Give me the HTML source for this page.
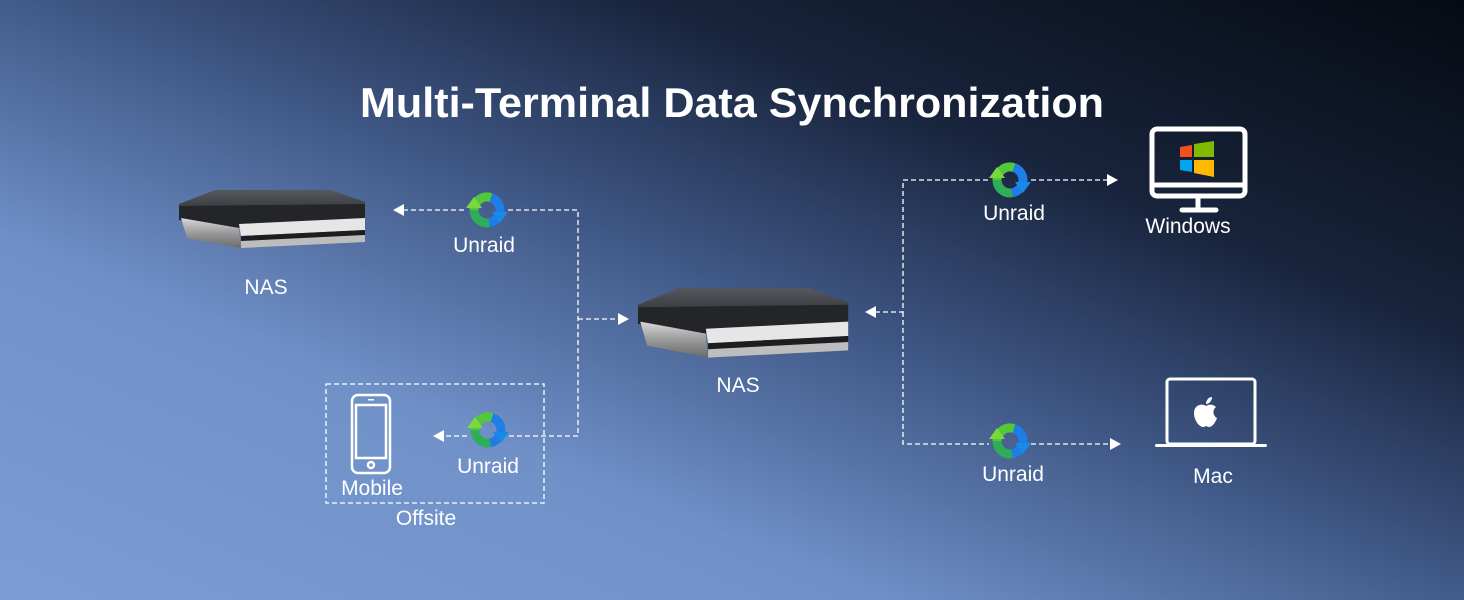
<!DOCTYPE html>
<html><head><meta charset="utf-8"><style>
html,body{margin:0;padding:0;width:1464px;height:600px;overflow:hidden}
svg{display:block}
text{font-family:"Liberation Sans",sans-serif;fill:#fff}
</style></head><body>
<svg width="1464" height="600" viewBox="0 0 1464 600" xmlns="http://www.w3.org/2000/svg">
<defs>
<linearGradient id="bg" x1="0" y1="1" x2="1" y2="0">
<stop offset="0" stop-color="#7c9dd4"/>
<stop offset="0.3" stop-color="#7090c8"/>
<stop offset="0.52" stop-color="#3e5684"/>
<stop offset="0.72" stop-color="#18243c"/>
<stop offset="1" stop-color="#060a12"/>
</linearGradient>
<linearGradient id="silver" x1="0" y1="0" x2="0" y2="1">
<stop offset="0" stop-color="#d8d8d8"/><stop offset="0.5" stop-color="#9a9a9a"/><stop offset="1" stop-color="#6a6a6a"/>
</linearGradient>
<linearGradient id="top" x1="0" y1="0" x2="0" y2="1">
<stop offset="0" stop-color="#55585d"/><stop offset="1" stop-color="#3a3c40"/>
</linearGradient>
<g id="nas">
<polygon points="0,14 36,0 152,0 186,12 186,16 0,18" fill="url(#top)"/>
<polygon points="0,16 186,14 186,30 62,34 60,38 0,30" fill="#232528"/>
<polygon points="2,28 60,38 62,58 8,48" fill="url(#silver)"/>
<polygon points="60,34 186,28 186,40 62,46" fill="#e6e6e6"/>
<polygon points="62,46 186,40 186,46 62,52" fill="#1c1d20"/>
<polygon points="62,51 186,45 186,52 62,58" fill="#bdbdbd"/>
</g>
<g id="sync">
<path d="M-13,0 A13,13 0 0 1 4,-12.4" fill="none" stroke="#52c93a" stroke-width="9"/>
<polygon points="-21,-2 -5,-2 -13,-13" fill="#7ad83c"/>
<path d="M4,-12.4 A13,13 0 0 1 2,12.8" fill="none" stroke="#1f7de6" stroke-width="9"/>
<path d="M-13,0 A13,13 0 0 0 2,12.8" fill="none" stroke="#2fae5a" stroke-width="9"/>
<polygon points="21,2 5,2 13,13" fill="#1a8ae8"/>
</g>
</defs>
<rect width="1464" height="600" fill="url(#bg)"/>
<text x="732" y="117" text-anchor="middle" font-size="42" font-weight="bold" textLength="744" lengthAdjust="spacingAndGlyphs">Multi-Terminal Data Synchronization</text>

<g stroke="#fff" stroke-width="1.3" stroke-dasharray="5,3" fill="none">
<path d="M403,210 H466"/>
<path d="M508,210 H578 V436 H509"/>
<path d="M467,436 H443"/>
<path d="M578,319 H620"/>
<path d="M875,312 H903 V180 H989"/>
<path d="M1031,180 H1108"/>
<path d="M903,312 V444 H989"/>
<path d="M1031,444 H1110"/>
<rect x="326" y="384" width="218" height="119"/>
</g>
<g fill="#fff">
<polygon points="393,210 404,204 404,216"/>
<polygon points="433,436 444,430 444,442"/>
<polygon points="629,319 618,313 618,325"/>
<polygon points="865,312 876,306 876,318"/>
<polygon points="1118,180 1107,174 1107,186"/>
<polygon points="1121,444 1110,438 1110,450"/>
</g>

<use href="#nas" x="179" y="190"/>
<use href="#nas" transform="translate(638,288) scale(1.13,1.2)"/>

<use href="#sync" x="487" y="210"/>
<use href="#sync" x="488" y="430"/>
<use href="#sync" x="1010" y="180"/>
<use href="#sync" x="1010" y="441"/>

<g font-size="21">
<text x="484" y="252" text-anchor="middle">Unraid</text>
<text x="488" y="473" text-anchor="middle">Unraid</text>
<text x="1014" y="220" text-anchor="middle">Unraid</text>
<text x="1013" y="481" text-anchor="middle">Unraid</text>
<text x="266" y="294" text-anchor="middle">NAS</text>
<text x="738" y="392" text-anchor="middle">NAS</text>
<text x="372" y="495" text-anchor="middle">Mobile</text>
<text x="426" y="525" text-anchor="middle">Offsite</text>
<text x="1188" y="233" text-anchor="middle">Windows</text>
<text x="1213" y="483" text-anchor="middle">Mac</text>
</g>

<!-- phone -->
<g fill="none" stroke="#fff" stroke-width="2.5">
<rect x="352" y="395" width="38" height="78" rx="6"/>
<rect x="356" y="405" width="30" height="53"/>
<circle cx="371" cy="465" r="3"/>
</g>
<rect x="368" y="399" width="6" height="1.5" fill="#fff"/>

<!-- windows monitor -->
<g fill="none" stroke="#fff" stroke-width="5">
<rect x="1152" y="129" width="93" height="67" rx="5"/>
<line x1="1152" y1="185" x2="1245" y2="185"/>
<line x1="1198" y1="196" x2="1198" y2="209"/>
<line x1="1182" y1="210" x2="1216" y2="210" stroke-linecap="round"/>
</g>
<polygon points="1180,147 1192,145 1192,157 1180,157" fill="#f25022"/>
<polygon points="1194,144 1214,141 1214,157 1194,157" fill="#7fba00"/>
<polygon points="1180,160 1192,160 1192,172 1180,170" fill="#00a4ef"/>
<polygon points="1194,160 1214,160 1214,177 1194,173" fill="#ffb900"/>

<!-- mac laptop -->
<g fill="none" stroke="#fff" stroke-width="3">
<rect x="1167" y="379" width="88" height="65" rx="3"/>
</g>
<rect x="1155" y="444" width="112" height="3" rx="1.5" fill="#fff"/>
<g fill="#fff">
<path d="M1206,406 c-4,-3 -12,-1 -12,7 c0,7 5,14 9,14 c2,0 3,-1 3,-1 c1,0 1,1 3,1 c4,0 7,-6 8,-9 c-4,-2 -5,-8 -1,-11 c-3,-3 -7,-3 -10,-1z"/>
<path d="M1206,404 c0,-4 3,-7 6,-7 c0,4 -3,7 -6,7z"/>
</g>
</svg>
</body></html>
